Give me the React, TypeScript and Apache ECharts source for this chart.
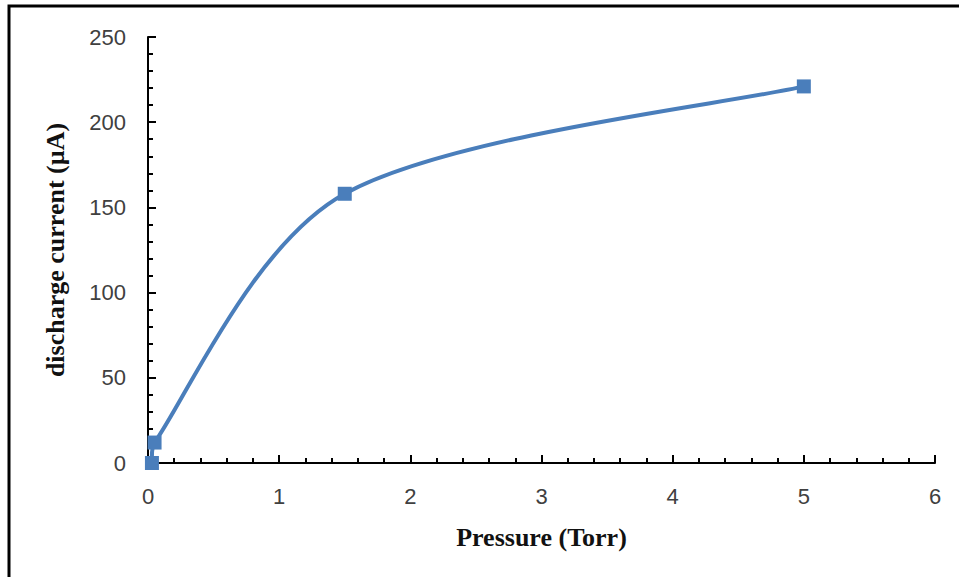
import React, { useEffect, useRef } from "react";
import * as echarts from "echarts";

const pressureTorr: number[] = [0.03, 0.05, 1.5, 5];
const dischargeCurrent: number[] = [0, 12, 158, 221];
const xTitle = "Pressure (Torr)";
const yTitle = "discharge current (\u00B5A)";
const lineColor = "#4A7EBB";

export default function App() {
  const ref = useRef<HTMLDivElement>(null);
  useEffect(() => {
    document.body.style.margin = "0";
    const chart = echarts.init(ref.current!, undefined, { renderer: "svg" });
    const data = pressureTorr.map((x, i) => [x, dischargeCurrent[i]]);
    const tickFont = { fontFamily: "Liberation Sans, Arial, sans-serif", fontSize: 22, color: "#404040" };
    const titleFont = { fontFamily: "Liberation Serif, Times New Roman, serif", fontSize: 26, fontWeight: "bold" as const, color: "#111" };

    // Excel-style smoothed line: cubic Bezier with control points P ± (next - prev)/6 in pixel space,
    // control vectors capped to a third of the segment length to avoid loops on short segments
    const renderSmooth = (params: any, api: any) => {
      if (params.dataIndex !== 0) return null;
      const pts = data.map((d) => api.coord(d));
      const n = pts.length;
      const tan = (i: number) => {
        const a = pts[Math.max(i - 1, 0)];
        const b = pts[Math.min(i + 1, n - 1)];
        return [(b[0] - a[0]) / 6, (b[1] - a[1]) / 6];
      };
      const cap = (v: number[], maxLen: number) => {
        const l = Math.hypot(v[0], v[1]);
        if (l <= maxLen || l === 0) return v;
        return [(v[0] * maxLen) / l, (v[1] * maxLen) / l];
      };
      let d = `M ${pts[0][0]} ${pts[0][1]}`;
      for (let i = 0; i < n - 1; i++) {
        const seg = Math.hypot(pts[i + 1][0] - pts[i][0], pts[i + 1][1] - pts[i][1]);
        const t0 = cap(tan(i), seg / 3);
        const t1 = cap(tan(i + 1), seg / 3);
        const c1 = [pts[i][0] + t0[0], pts[i][1] + t0[1]];
        const c2 = [pts[i + 1][0] - t1[0], pts[i + 1][1] - t1[1]];
        d += ` C ${c1[0]} ${c1[1]} ${c2[0]} ${c2[1]} ${pts[i + 1][0]} ${pts[i + 1][1]}`;
      }
      return {
        type: "path",
        shape: { pathData: d },
        style: { fill: "none", stroke: lineColor, lineWidth: 4, lineJoin: "round", lineCap: "round" },
      };
    };

    chart.setOption({
      animation: false,
      backgroundColor: "#fff",
      grid: { left: 148, right: 24, top: 37, bottom: 114, containLabel: false },
      xAxis: {
        type: "value",
        min: 0,
        max: 6,
        interval: 1,
        name: xTitle,
        nameLocation: "middle",
        nameGap: 61,
        nameTextStyle: titleFont,
        axisLine: { show: true, onZero: false, lineStyle: { color: "#000", width: 2 } },
        axisTick: { show: true, inside: true, length: 8, lineStyle: { color: "#000", width: 2 } },
        minorTick: { show: true, splitNumber: 5, length: 5, lineStyle: { color: "#000", width: 2 } },
        axisLabel: { ...tickFont, margin: 22 },
        splitLine: { show: false },
      },
      yAxis: {
        type: "value",
        min: 0,
        max: 250,
        interval: 50,
        name: yTitle,
        nameLocation: "middle",
        nameGap: 80,
        nameRotate: 90,
        nameTextStyle: titleFont,
        axisLine: { show: true, onZero: false, lineStyle: { color: "#000", width: 2 } },
        axisTick: { show: true, inside: true, length: 8, lineStyle: { color: "#000", width: 2 } },
        minorTick: { show: true, splitNumber: 5, length: 5, lineStyle: { color: "#000", width: 2 } },
        axisLabel: { ...tickFont, margin: 22 },
        splitLine: { show: false },
      },
      series: [
        {
          type: "custom",
          data,
          encode: { x: 0, y: 1 },
          renderItem: renderSmooth,
          clip: false,
          z: 2,
          silent: true,
        },
        {
          type: "scatter",
          data,
          symbol: "rect",
          symbolSize: 14,
          itemStyle: { color: lineColor, opacity: 1 },
          z: 3,
        },
      ],
      graphic: [
        {
          type: "rect",
          shape: { x: 9, y: 6, width: 1200, height: 1200 },
          style: { fill: "none", stroke: "#000", lineWidth: 3 },
          silent: true,
        },
      ],
    });
    return () => chart.dispose();
  }, []);
  return <div ref={ref} style={{ width: 959, height: 577 }} />;
}
